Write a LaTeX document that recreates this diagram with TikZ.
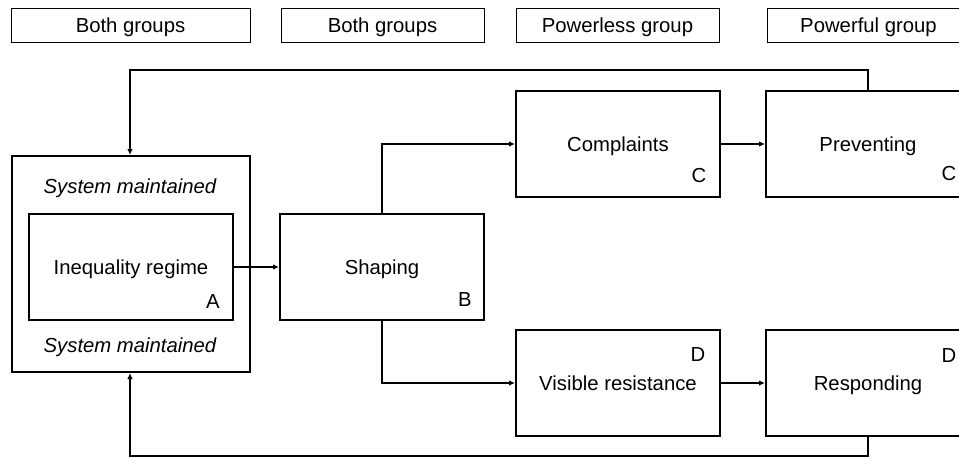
\documentclass[tikz,border=0pt]{standalone}
\usepackage{fontspec}
\setmainfont{Liberation Sans}
\usetikzlibrary{arrows.meta}
\begin{document}
\begin{tikzpicture}[x=1pt,y=-1pt,
  every node/.style={font=\fontsize{20.3}{23}\selectfont, inner sep=0pt, text height=14.5pt, text depth=0pt},
  mainbox/.style={draw, line width=2pt, minimum width=204pt, minimum height=106pt},
  groupbox/.style={draw, line width=1pt, minimum height=34pt},
  conn/.style={line width=2pt, -{Latex[length=6pt,width=5.5pt]}},
  letter/.style={}]
\useasboundingbox (0,0) rectangle (959,458);
\clip (0,0) rectangle (959,458);
% group labels
\node[groupbox, minimum width=239pt] (g1) at (130.5,25) {Both groups};
\node[groupbox, minimum width=203pt] (g2) at (382.5,25) {Both groups};
\node[groupbox, minimum width=203pt] (g3) at (617.5,25) {Powerless group};
\node[groupbox, minimum width=203pt] (g4) at (868.5,25) {Powerful group};
% outer box
\node[draw, line width=2pt, minimum width=238pt, minimum height=216pt] (O) at (131,264) {};
\node (sm1) at (130,186) {\itshape System maintained};
\node (sm2) at (130,345.5) {\itshape System maintained};
% main boxes
\node[mainbox] (A) at (131,267) {Inequality regime};
\node[mainbox] (B) at (382,267) {Shaping};
\node[mainbox] (C) at (618,144) {Complaints};
\node[mainbox] (P) at (868,144) {Preventing};
\node[mainbox] (V) at (618,383) {Visible resistance};
\node[mainbox] (R) at (868,383) {Responding};
% letters
\node[letter] (la) at (213,301.5) {A};
\node[letter] (lb) at (465,299) {B};
\node[letter] (lc1) at (699,175) {C};
\node[letter] (lc2) at (949,173) {C};
\node[letter] (ld1) at (698,354) {D};
\node[letter] (ld2) at (949,355) {D};
% coordinates for feedback lines
\coordinate (top) at (0,70);
\coordinate (bot) at (0,456);
% connectors
\draw[conn] (A.east) -- (B.west);
\draw[conn] (B.north) |- (C.west);
\draw[conn] (B.south) |- (V.west);
\draw[conn] (C.east) -- (P.west);
\draw[conn] (V.east) -- (R.west);
\draw[conn] (P.north) -- (P.north |- top) -| ([xshift=-1pt]O.north);
\draw[conn] (R.south) -- (R.south |- bot) -| ([xshift=-1pt]O.south);
\end{tikzpicture}
\end{document}
